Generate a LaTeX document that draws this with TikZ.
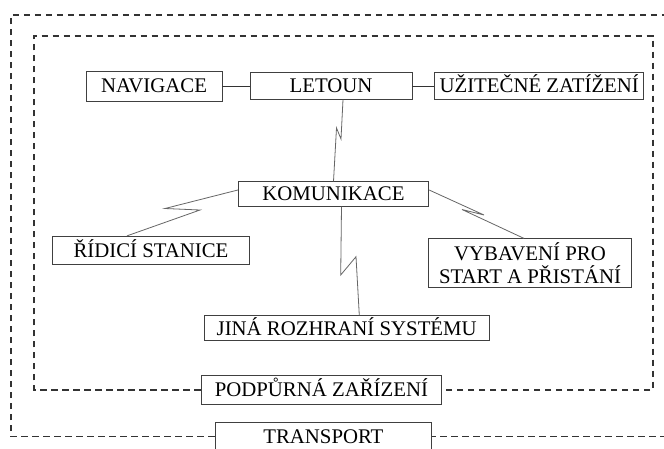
\documentclass[tikz,border=0pt]{standalone}
\usepackage{fontspec}
\setmainfont{Liberation Serif}
\begin{document}
\begin{tikzpicture}[x=1pt,y=-1pt,
  box/.style={draw=black!75, line width=0.9pt, inner sep=0pt, text=black,
    font=\fontsize{20.8}{23.3}\selectfont, text height=13.8pt, text depth=0pt},
  twoline/.style={draw=black!75, line width=0.9pt, inner sep=0pt, text=black,
    font=\fontsize{20.8}{23.3}\selectfont, align=center},
  frame/.style={draw=black!80, line width=1.5pt, dash pattern=on 6.5pt off 4.5pt},
  zig/.style={draw=black!60, line width=0.8pt, line join=miter},
  link/.style={draw=black!80, line width=0.8pt}]
\useasboundingbox (0,0) rectangle (664,448);
\clip (0,0) rectangle (664,448);
\fill[white] (0,0) rectangle (664,448);

\node[box, minimum width=136pt, minimum height=30pt] (nav) at (154,86) {NAVIGACE};
\node[box, minimum width=162pt, minimum height=26.5pt] (let) at (331,86) {LETOUN};
\node[box, minimum width=209pt, minimum height=26.5pt] (uzit) at (539.2,86) {UŽITEČNÉ ZATÍŽENÍ};
\node[box, minimum width=190.4pt, minimum height=24.5pt] (kom) at (333.5,194) {KOMUNIKACE};
\node[box, minimum width=196.6pt, minimum height=28.4pt] (rid) at (151,250.5) {ŘÍDICÍ STANICE};
\node[twoline, minimum width=202.6pt, minimum height=48.3pt] (vyb) at (530,263) {VYBAVENÍ PRO\\START A PŘISTÁNÍ};
\node[box, minimum width=285.3pt, minimum height=25pt] (jina) at (346.7,328.2) {JINÁ ROZHRANÍ SYSTÉMU};
\node[box, minimum width=240.7pt, minimum height=29.5pt] (podp) at (321.4,389.8) {PODPŮRNÁ ZAŘÍZENÍ};
\node[box, minimum width=216.7pt, minimum height=29pt] (trans) at (323.4,436.5) {TRANSPORT};

% straight links
\draw[link] (nav.east) -- (let.west);
\draw[link] (let.east) -- (uzit.west);

% lightning links
\draw[zig] ([xshift=12pt]let.south) -- (341,139) -- (336.5,128) -- (kom.north);
\draw[zig] ([yshift=4pt]kom.west) -- (165,208.5) -- (200,210) -- ([xshift=-24pt]rid.north);
\draw[zig] ([yshift=4pt]kom.east) -- (484,215) -- (462,209.5) -- ([xshift=-6pt]vyb.north);
\draw[zig] ([xshift=8pt]kom.south) -- (340.7,275) -- (356,256.7) -- ([xshift=12.6pt]jina.north);

% dashed frames
\draw[frame] (podp.west) -- (34,389.8) -- (34,36) -- (653,36) -- (653,389.8) -- (podp.east);
\draw[frame] (trans.west) -- (11,436.5) -- (11,15) -- (690,15) -- (690,436.5) -- (trans.east);
\end{tikzpicture}
\end{document}
